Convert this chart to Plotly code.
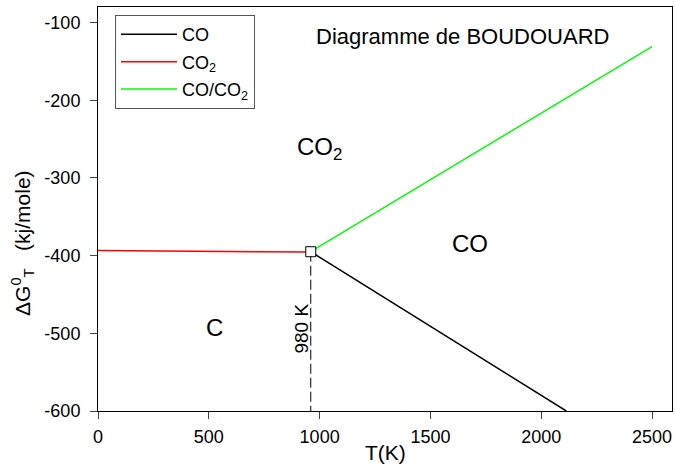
import plotly.graph_objects as go

# Data
T_CO = [960, 2113]
G_CO = [-395, -600]
T_CO2 = [0, 960]
G_CO2 = [-393.5, -395.5]
T_COCO2 = [960, 2500]
G_COCO2 = [-395, -131]
T_eq = [960]
G_eq = [-395]
T_drop = [960, 960]
G_drop = [-395, -600]

x_ticks = [0, 500, 1000, 1500, 2000, 2500]
x_ticktext = ["0", "500", "1000", "1500", "2000", "2500"]
y_ticks = [-600, -500, -400, -300, -200, -100]
y_ticktext = ["-600", "-500", "-400", "-300", "-200", "-100"]

FONT = "Liberation Sans, Arial, sans-serif"

fig = go.Figure()
fig.add_trace(go.Scatter(x=T_CO, y=G_CO, mode="lines", name="CO",
                         line=dict(color="black", width=1.5), legendgroup="a"))
fig.add_trace(go.Scatter(x=T_CO2, y=G_CO2, mode="lines", name="CO<sub>2</sub>",
                         line=dict(color="#ff0000", width=1.5), legendgroup="b"))
fig.add_trace(go.Scatter(x=T_COCO2, y=G_COCO2, mode="lines", name="CO/CO<sub>2</sub>",
                         line=dict(color="#00ff00", width=1.5), legendgroup="c"))
fig.add_trace(go.Scatter(x=T_drop, y=G_drop, mode="lines", showlegend=False,
                         line=dict(color="black", width=1, dash="10px,4px")))
fig.add_trace(go.Scatter(x=T_eq, y=G_eq, mode="markers", showlegend=False,
                         marker=dict(symbol="square", size=10, color="white",
                                     line=dict(color="black", width=1))))

fig.add_annotation(x=0.6348, y=0.9265, xref="paper", yref="paper",
                   xanchor="center", yanchor="middle",
                   text="Diagramme de BOUDOUARD", showarrow=False,
                   font=dict(size=22, color="black", family=FONT))
fig.add_annotation(x=998, y=-262, text="CO<sub>2</sub>", showarrow=False,
                   font=dict(size=24, color="black", family=FONT))
fig.add_annotation(x=1680, y=-385, text="CO", showarrow=False,
                   font=dict(size=24, color="black", family=FONT))
fig.add_annotation(x=526, y=-493, text="C", showarrow=False,
                   font=dict(size=24, color="black", family=FONT))
fig.add_annotation(x=920, y=-494, text="980 K", showarrow=False, textangle=-90,
                   font=dict(size=19, color="black", family=FONT))
# axis titles
fig.add_annotation(x=0.5, y=0, xref="paper", yref="paper", yshift=-41,
                   xanchor="center", yanchor="middle",
                   text="T(K)", showarrow=False,
                   font=dict(size=21, color="black", family=FONT))
fig.add_annotation(x=0, y=0.416, xref="paper", yref="paper", xshift=-75,
                   xanchor="center", yanchor="middle",
                   text="ΔG<sup>0</sup><sub>T</sub>\u00a0\u00a0\u00a0(kj/mole)",
                   textangle=-90, showarrow=False,
                   font=dict(size=21, color="black", family=FONT))

fig.update_layout(
    width=675, height=465,
    margin=dict(l=98, r=3, t=7, b=54),
    paper_bgcolor="white", plot_bgcolor="white",
    font=dict(family=FONT, color="black", size=18),
    showlegend=True,
    legend=dict(x=0.0296, y=0.98, xanchor="left", yanchor="top",
                bordercolor="#555555", borderwidth=1, bgcolor="white",
                font=dict(size=18, family=FONT, color="black"),
                itemwidth=56, entrywidth=140, entrywidthmode="pixels",
                traceorder="grouped", tracegroupgap=1),
    xaxis=dict(range=[0, 2590], tickvals=x_ticks, ticktext=x_ticktext,
               ticks="outside", ticklen=7, ticklabelstandoff=2,
               showline=True, linecolor="black", linewidth=1, mirror=True,
               showgrid=False, zeroline=False, tickfont=dict(size=18)),
    yaxis=dict(range=[-600, -80], tickvals=y_ticks, ticktext=y_ticktext,
               ticks="outside", ticklen=7, ticklabelstandoff=6,
               showline=True, linecolor="black", linewidth=1, mirror=True,
               showgrid=False, zeroline=False, tickfont=dict(size=18)),
)

fig.write_html("out.html")
